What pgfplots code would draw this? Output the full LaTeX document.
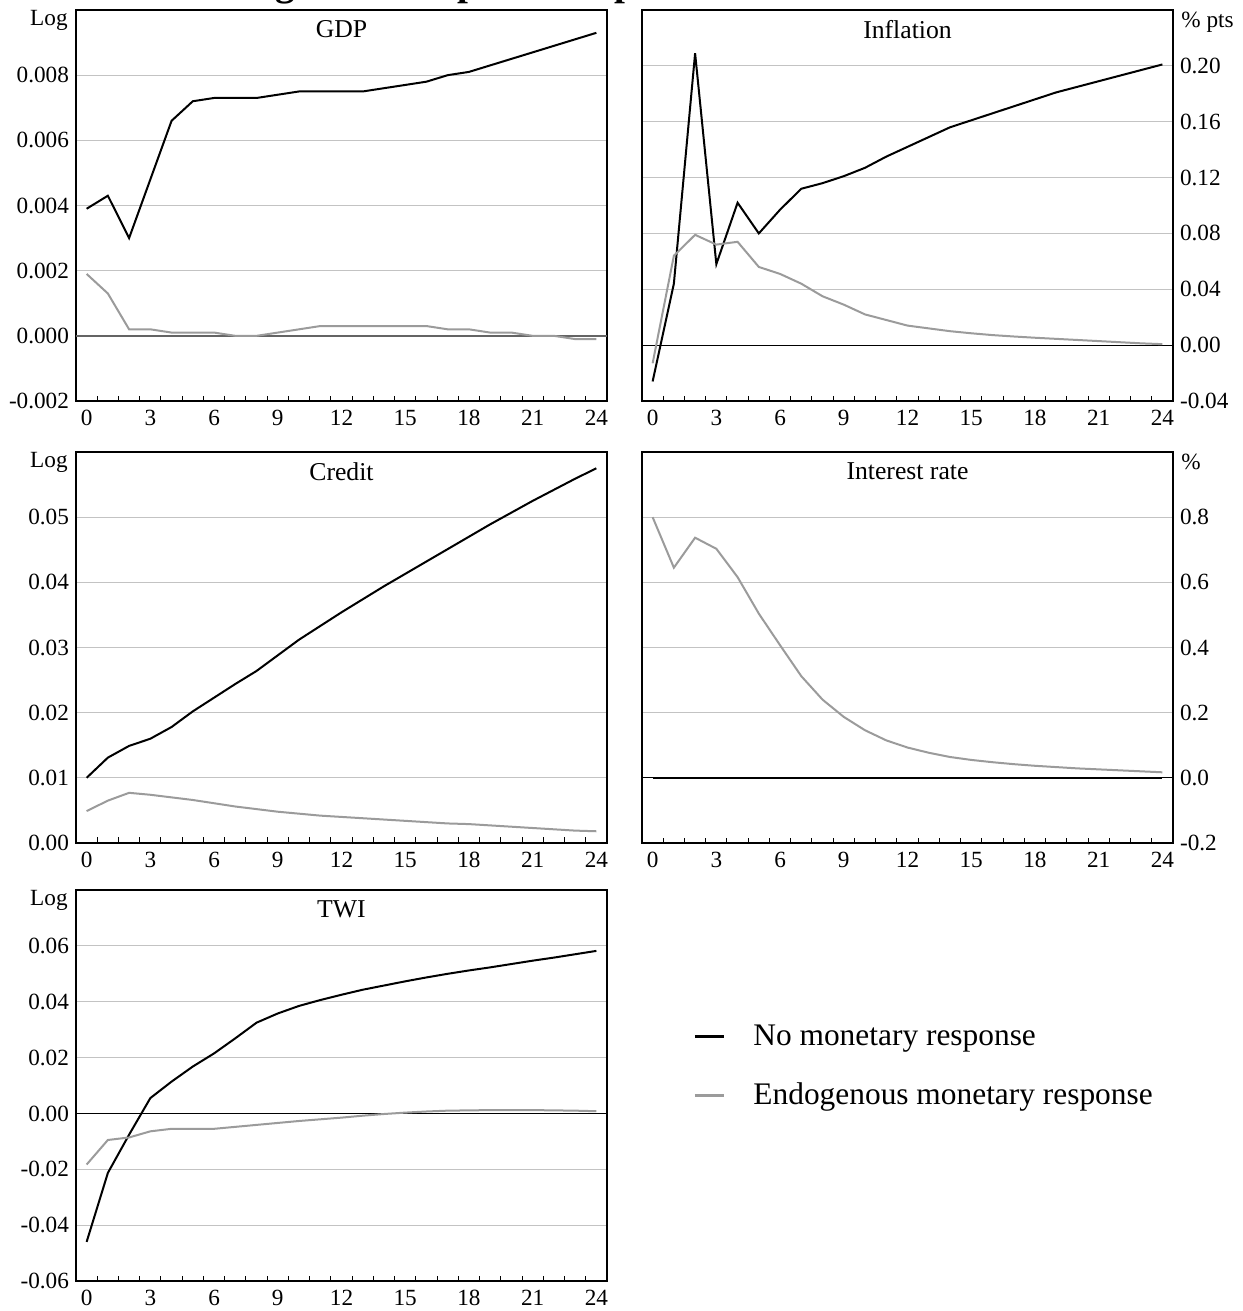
\documentclass[border=0pt]{standalone}
\usepackage{fontspec}
\setmainfont{Liberation Serif}
\usepackage{pgfplots}
\usepackage{pgfplotstable}
\pgfplotsset{compat=1.18}

\definecolor{gline}{RGB}{155,155,155}
\definecolor{gridc}{RGB}{195,195,195}
\definecolor{zgray}{RGB}{100,100,100}

\pgfplotstableread{
t a b
0 0.0039 0.0019
1 0.0043 0.0013
2 0.0030 0.0002
3 0.0048 0.0002
4 0.0066 0.0001
5 0.0072 0.0001
6 0.0073 0.0001
7 0.0073 0.0000
8 0.0073 0.0000
9 0.0074 0.0001
10 0.0075 0.0002
11 0.0075 0.0003
12 0.0075 0.0003
13 0.0075 0.0003
14 0.0076 0.0003
15 0.0077 0.0003
16 0.0078 0.0003
17 0.0080 0.0002
18 0.0081 0.0002
19 0.0083 0.0001
20 0.0085 0.0001
21 0.0087 0.0000
22 0.0089 0.0000
23 0.0091 -0.0001
24 0.0093 -0.0001
}\gdp

\pgfplotstableread{
t a b
0 -0.026 -0.013
1 0.044 0.064
2 0.209 0.079
3 0.058 0.072
4 0.102 0.074
5 0.080 0.056
6 0.097 0.051
7 0.112 0.044
8 0.116 0.035
9 0.121 0.029
10 0.127 0.022
11 0.135 0.018
12 0.142 0.014
13 0.149 0.012
14 0.156 0.010
15 0.161 0.0085
16 0.166 0.0072
17 0.171 0.0062
18 0.176 0.0053
19 0.181 0.0045
20 0.185 0.0037
21 0.189 0.0029
22 0.193 0.0021
23 0.197 0.0013
24 0.201 0.0007
}\infl

\pgfplotstableread{
t a b
0 0.0100 0.0049
1 0.0131 0.0065
2 0.0149 0.0077
3 0.0160 0.0074
4 0.0178 0.0070
5 0.0202 0.0066
6 0.0223 0.0061
7 0.0244 0.0056
8 0.0264 0.0052
9 0.0288 0.0048
10 0.0312 0.0045
11 0.0333 0.0042
12 0.0354 0.0040
13 0.0374 0.0038
14 0.0394 0.0036
15 0.0413 0.0034
16 0.0432 0.0032
17 0.0451 0.0030
18 0.0470 0.0029
19 0.0489 0.0027
20 0.0507 0.0025
21 0.0525 0.0023
22 0.0542 0.0021
23 0.0559 0.0019
24 0.0575 0.0018
}\credit

\pgfplotstableread{
t a b
0 0 0.800
1 0 0.645
2 0 0.737
3 0 0.703
4 0 0.616
5 0 0.504
6 0 0.407
7 0 0.312
8 0 0.240
9 0 0.187
10 0 0.146
11 0 0.115
12 0 0.093
13 0 0.077
14 0 0.064
15 0 0.055
16 0 0.048
17 0 0.042
18 0 0.037
19 0 0.033
20 0 0.029
21 0 0.026
22 0 0.023
23 0 0.020
24 0 0.017
}\irate

\pgfplotstableread{
t a b
0 -0.0460 -0.0183
1 -0.0213 -0.0095
2 -0.0076 -0.0086
3 0.0055 -0.0064
4 0.0114 -0.0055
5 0.0168 -0.0055
6 0.0215 -0.0055
7 0.0269 -0.0048
8 0.0325 -0.0041
9 0.0358 -0.0034
10 0.0385 -0.0027
11 0.0406 -0.0021
12 0.0425 -0.0015
13 0.0443 -0.0008
14 0.0458 -0.0002
15 0.0473 0.0003
16 0.0487 0.0007
17 0.0500 0.0010
18 0.0512 0.0011
19 0.0523 0.0012
20 0.0535 0.0012
21 0.0547 0.0012
22 0.0558 0.0011
23 0.0570 0.0010
24 0.0582 0.0008
}\twi

\pgfplotsset{
  irf/.style={
    scale only axis, width=265.5pt, height=195.5pt,
    anchor=north west, clip=false,
    xmin=-0.5, xmax=24.5,
    xtick={0,3,...,24},
    minor xtick={0.5,1.5,...,23.5},
    xtick pos=left,
    tick align=inside,
    major tick length=0pt,
    minor tick length=2.75pt,
    every minor tick/.style={black, line width=0.5pt},
    ymajorgrids=true,
    major grid style={gridc, line width=0.5pt},
    axis line style={black, line width=0.7pt},
    scaled y ticks=false, scaled x ticks=false,
    /pgf/number format/assume math mode=true,
    tick label style={font=\fontsize{11.6}{13}\selectfont},
    xticklabel style={yshift=-1pt},
  },
  blk/.style={black, line width=1pt, no markers},
  gry/.style={gline, line width=1pt, no markers},
  zl/.style={black, line width=0.5pt, no markers, forget plot},
}
\tikzset{
  ttl/.style={anchor=north, inner sep=0pt, yshift=-5pt, font=\fontsize{12.85}{15}\selectfont},
  unitL/.style={anchor=north east, inner sep=0pt, xshift=-4pt, font=\fontsize{11.6}{13}\selectfont},
  unitR/.style={anchor=north west, inner sep=0pt, xshift=4pt, yshift=-1pt, font=\fontsize{11.6}{13}\selectfont},
}

\begin{document}
\begin{tikzpicture}
\useasboundingbox (0pt,0pt) rectangle (621pt,-655.5pt);
\node[anchor=base west, inner sep=0pt, font=\bfseries\fontsize{19.5}{22}\selectfont] at (74.8pt,2pt) {Exchange Rate Impulse Responses};

% GDP
\begin{axis}[irf, at={(38pt,-5pt)},
  ymin=-0.002, ymax=0.010,
  ytick={-0.002,0,0.002,0.004,0.006,0.008},
  yticklabels={-0.002,0.000,0.002,0.004,0.006,0.008}]
\addplot[zl, zgray, line width=0.9pt] coordinates {(-0.5,0) (24.5,0)};
\addplot[blk] table[x=t,y=a] {\gdp};
\addplot[gry] table[x=t,y=b] {\gdp};
\node[unitL] at (rel axis cs:0,1) {Log};
\node[ttl] at (rel axis cs:0.5,1) {GDP};
\end{axis}

% Inflation
\begin{axis}[irf, at={(321pt,-5pt)},
  ymin=-0.04, ymax=0.24,
  ytick={-0.04,0,0.04,0.08,0.12,0.16,0.20},
  yticklabels={-0.04,0.00,0.04,0.08,0.12,0.16,0.20},
  yticklabel pos=right]
\addplot[zl] coordinates {(-0.5,0) (24.5,0)};
\addplot[blk] table[x=t,y=a] {\infl};
\addplot[gry] table[x=t,y=b] {\infl};
\node[unitR] at (rel axis cs:1,1) {\% pts};
\node[ttl] at (rel axis cs:0.5,1) {Inflation};
\end{axis}

% Credit
\begin{axis}[irf, at={(38pt,-226pt)},
  ymin=0, ymax=0.06,
  ytick={0,0.01,0.02,0.03,0.04,0.05},
  yticklabels={0.00,0.01,0.02,0.03,0.04,0.05}]
\addplot[blk] table[x=t,y=a] {\credit};
\addplot[gry] table[x=t,y=b] {\credit};
\node[unitL] at (rel axis cs:0,1) {Log};
\node[ttl] at (rel axis cs:0.5,1) {Credit};
\end{axis}

% Interest rate
\begin{axis}[irf, at={(321pt,-226pt)},
  ymin=-0.2, ymax=1.0,
  ytick={-0.2,0,0.2,0.4,0.6,0.8},
  yticklabels={-0.2,0.0,0.2,0.4,0.6,0.8},
  yticklabel pos=right]
\addplot[zl] coordinates {(-0.5,0) (24.5,0)};
\addplot[gry] table[x=t,y=b] {\irate};
\addplot[blk] table[x=t,y=a] {\irate};
\node[unitR] at (rel axis cs:1,1) {\%};
\node[ttl] at (rel axis cs:0.5,1) {Interest rate};
\end{axis}

% TWI
\begin{axis}[irf, at={(38pt,-445pt)},
  ymin=-0.06, ymax=0.08,
  ytick={-0.06,-0.04,-0.02,0,0.02,0.04,0.06},
  yticklabels={-0.06,-0.04,-0.02,0.00,0.02,0.04,0.06},
  legend cell align=left,
  legend image code/.code={\draw[#1, line width=1.5pt] (0pt,0pt) -- (14.5pt,0pt);},
  legend style={at={(1.162,0.549)}, anchor=west, draw=none, fill=none,
    font=\fontsize{15.7}{18}\selectfont, row sep=17pt, column sep=14pt,
    inner sep=0pt, nodes={inner sep=0pt}}]
\addplot[zl] coordinates {(-0.5,0) (24.5,0)};
\addplot[blk] table[x=t,y=a] {\twi};
\addlegendentry{No monetary response}
\addplot[gry] table[x=t,y=b] {\twi};
\addlegendentry{Endogenous monetary response}
\node[unitL] at (rel axis cs:0,1) {Log};
\node[ttl] at (rel axis cs:0.5,1) {TWI};
\end{axis}
\end{tikzpicture}
\end{document}
